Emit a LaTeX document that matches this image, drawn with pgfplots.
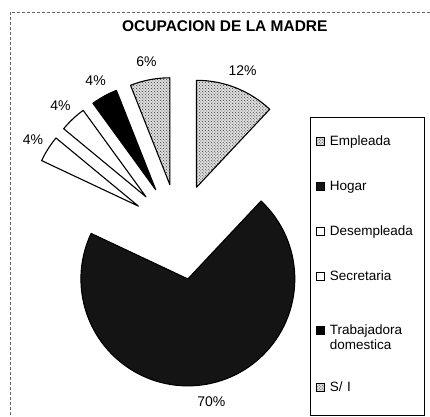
\documentclass[border=0pt]{standalone}
\usepackage{pgfplots}
\pgfplotsset{compat=1.18}
\usepackage{pgfplotstable}
\usetikzlibrary{patterns}
\usepackage{fontspec}
\setmainfont{Liberation Sans}

\pgfplotstableread{
label value
Empleada 12
Hogar 70
Desempleada 4
Secretaria 4
Trabajadora 4
SI 6
}\piedata

\tikzset{
  s0/.style={preaction={fill=gray!25}, pattern=crosshatch dots, pattern color=black!80},
  s1/.style={fill=black!92},
  s2/.style={fill=white},
  s3/.style={fill=white},
  s4/.style={fill=black},
  s5/.style={preaction={fill=gray!25}, pattern=crosshatch dots, pattern color=black!80},
}
\pgfplotsset{sq legend/.style={legend image code/.code={\draw[##1,draw=black,line width=0.7pt] (0pt,-4pt) rectangle (8pt,4pt);}}}

\begin{document}
\begin{tikzpicture}
\xdef\cum{0}
\foreach \i in {0,...,5}{%
  \pgfplotstablegetelem{\i}{value}\of\piedata
  \let\pv\pgfplotsretval
  \pgfmathsetmacro\sa{90-3.6*\cum}%
  \pgfmathsetmacro\ea{90-3.6*(\cum+\pv)}%
  \pgfmathsetmacro\ma{(\sa+\ea)/2}%
  \pgfmathsetmacro\nc{\cum+\pv}%
  \expandafter\xdef\csname sa\i\endcsname{\sa}%
  \expandafter\xdef\csname ea\i\endcsname{\ea}%
  \expandafter\xdef\csname ma\i\endcsname{\ma}%
  \expandafter\xdef\csname val\i\endcsname{\pv}%
  \xdef\cum{\nc}%
}
\begin{axis}[
  x=1pt, y=1pt, xmin=0, xmax=430, ymin=0, ymax=417,
  hide axis, clip=false,
  legend style={at={(axis cs:310,300)}, anchor=north west, draw=black, line width=0.6pt,
    inner xsep=6pt, inner ysep=2pt, column sep=4pt, row sep=0pt,
    font=\fontsize{13.5}{15}\selectfont,
    nodes={inner sep=1pt, text width=88pt, align=left, minimum height=45pt}},
  legend cell align=left,
]
\path (axis cs:0,0) rectangle (axis cs:430,417);
% chart area border
\draw[black!60, line width=0.6pt, densely dashed] (axis cs:430,405) -- (axis cs:10.5,405) -- (axis cs:10.5,2);
% pie slices (exploded)
\pgfplotsinvokeforeach{0,...,5}{%
  \fill[s#1, draw=black, line width=1.1pt, line join=round]
    (axis cs:179,185) ++(\csname ma#1\endcsname:48pt)
    -- ++(\csname sa#1\endcsname:107pt)
    arc[start angle=\csname sa#1\endcsname, end angle=\csname ea#1\endcsname, radius=107pt]
    -- cycle;
  \node[font=\fontsize{14}{16}\selectfont] at (axis cs:179,185) [shift={(\csname ma#1\endcsname:173pt)}] {\csname val#1\endcsname\%};
}
\node[font=\fontsize{15.5}{17}\selectfont\bfseries, anchor=base] at (axis cs:225,385) {OCUPACION DE LA MADRE};
\addlegendimage{sq legend, s0}
\addlegendentry{Empleada}
\addlegendimage{sq legend, s1}
\addlegendentry{Hogar}
\addlegendimage{sq legend, s2}
\addlegendentry{Desempleada}
\addlegendimage{sq legend, s3}
\addlegendentry{Secretaria}
\addlegendimage{sq legend, s4}
\addlegendentry[minimum height=62pt]{Trabajadora\\domestica}
\addlegendimage{sq legend, s5}
\addlegendentry[minimum height=52pt]{S/ I}
\end{axis}
\end{tikzpicture}
\end{document}
